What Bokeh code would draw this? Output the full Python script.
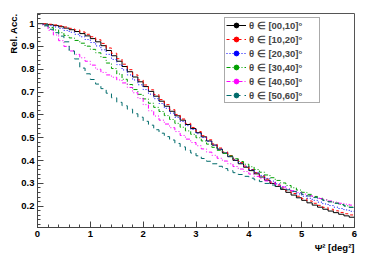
import numpy as np
from bokeh.plotting import figure
from bokeh.models import (Range1d, FixedTicker, CustomJSTickFormatter, Title,
                          Legend, LegendItem)
from bokeh.embed import file_html
from bokeh.resources import INLINE

# ---- data: relative acceptance per Psi^2 bin (60 bins of 0.1 deg^2 from 0 to 6) ----
bin_lo = 0.0
bin_hi = 6.0
n_bins = 60

theta_labels = ["θ ∈ [00,10]°", "θ ∈ [10,20]°", "θ ∈ [20,30]°",
                "θ ∈ [30,40]°", "θ ∈ [40,50]°", "θ ∈ [50,60]°"]

acc_00_10 = [1.000, 0.998, 0.995, 0.991, 0.986, 0.980, 0.973, 0.965, 0.956, 0.946,
             0.934, 0.920, 0.903, 0.882, 0.859, 0.835, 0.812, 0.789, 0.766, 0.745,
             0.724, 0.703, 0.682, 0.660, 0.638, 0.616, 0.596, 0.577, 0.558, 0.540,
             0.522, 0.504, 0.486, 0.468, 0.450, 0.433, 0.417, 0.401, 0.386, 0.371,
             0.356, 0.342, 0.328, 0.314, 0.300, 0.287, 0.274, 0.261, 0.249, 0.237,
             0.226, 0.215, 0.205, 0.196, 0.187, 0.179, 0.172, 0.165, 0.158, 0.152]

acc_10_20 = [1.000, 0.999, 0.997, 0.994, 0.990, 0.985, 0.979, 0.972, 0.963, 0.953,
             0.942, 0.929, 0.913, 0.893, 0.870, 0.846, 0.822, 0.798, 0.775, 0.753,
             0.731, 0.710, 0.689, 0.667, 0.645, 0.623, 0.602, 0.582, 0.563, 0.545,
             0.527, 0.509, 0.491, 0.473, 0.455, 0.438, 0.422, 0.406, 0.391, 0.376,
             0.361, 0.347, 0.333, 0.319, 0.306, 0.293, 0.280, 0.268, 0.256, 0.244,
             0.233, 0.223, 0.213, 0.204, 0.195, 0.187, 0.180, 0.173, 0.167, 0.162]

acc_20_30 = [1.000, 0.996, 0.991, 0.985, 0.978, 0.970, 0.962, 0.953, 0.942, 0.930,
             0.917, 0.902, 0.885, 0.865, 0.843, 0.820, 0.797, 0.775, 0.753, 0.732,
             0.711, 0.691, 0.671, 0.650, 0.629, 0.608, 0.589, 0.571, 0.553, 0.536,
             0.518, 0.501, 0.484, 0.467, 0.450, 0.434, 0.418, 0.403, 0.389, 0.375,
             0.361, 0.348, 0.335, 0.322, 0.310, 0.298, 0.286, 0.275, 0.264, 0.254,
             0.244, 0.235, 0.226, 0.218, 0.210, 0.203, 0.196, 0.190, 0.184, 0.178]

acc_30_40 = [1.000, 0.993, 0.983, 0.972, 0.960, 0.948, 0.937, 0.926, 0.914, 0.901,
             0.887, 0.872, 0.852, 0.827, 0.803, 0.779, 0.756, 0.733, 0.711, 0.690,
             0.670, 0.651, 0.633, 0.615, 0.597, 0.580, 0.563, 0.546, 0.530, 0.515,
             0.500, 0.486, 0.472, 0.458, 0.445, 0.432, 0.420, 0.408, 0.396, 0.384,
             0.373, 0.361, 0.349, 0.337, 0.325, 0.313, 0.302, 0.291, 0.281, 0.271,
             0.261, 0.252, 0.243, 0.235, 0.228, 0.221, 0.214, 0.208, 0.202, 0.196]

acc_40_50 = [1.000, 0.990, 0.970, 0.950, 0.925, 0.900, 0.880, 0.865, 0.850, 0.835,
             0.818, 0.800, 0.786, 0.775, 0.765, 0.753, 0.740, 0.720, 0.697, 0.672,
             0.645, 0.618, 0.595, 0.577, 0.560, 0.544, 0.527, 0.510, 0.494, 0.479,
             0.465, 0.451, 0.437, 0.423, 0.410, 0.398, 0.386, 0.374, 0.363, 0.352,
             0.341, 0.331, 0.321, 0.311, 0.302, 0.293, 0.284, 0.276, 0.268, 0.260,
             0.253, 0.246, 0.240, 0.234, 0.228, 0.223, 0.218, 0.213, 0.209, 0.205]

acc_50_60 = [1.000, 0.990, 0.975, 0.960, 0.945, 0.920, 0.880, 0.845, 0.805, 0.780,
             0.755, 0.735, 0.715, 0.695, 0.675, 0.655, 0.640, 0.625, 0.605, 0.590,
             0.572, 0.555, 0.535, 0.520, 0.505, 0.490, 0.475, 0.460, 0.445, 0.433,
             0.421, 0.409, 0.397, 0.386, 0.375, 0.365, 0.356, 0.347, 0.339, 0.331,
             0.323, 0.316, 0.308, 0.300, 0.293, 0.286, 0.279, 0.272, 0.265, 0.259,
             0.252, 0.245, 0.238, 0.231, 0.225, 0.219, 0.213, 0.207, 0.201, 0.195]

series = [acc_00_10, acc_10_20, acc_20_30, acc_30_40, acc_40_50, acc_50_60]
colors = ["#000000", "#ff0000", "#0000ff", "#00a000", "#ff00ff", "#006b6b"]
dashes = ["solid", "3 3", "1 2", "4 2 1 2", "4 2 1 2 1 2", "5 4"]

FONT = "Liberation Sans"

p = figure(width=374, height=259, output_backend="svg", toolbar_location=None,
           x_range=Range1d(0, 6), y_range=Range1d(0.107, 1.044),
           min_border_left=37, min_border_right=20, min_border_top=13,
           min_border_bottom=32)
p.grid.visible = False
p.background_fill_color = "white"
p.border_fill_color = "white"
p.outline_line_color = "#555555"
p.outline_line_width = 1

edges = np.linspace(bin_lo, bin_hi, n_bins + 1)
centers = 0.5 * (edges[:-1] + edges[1:])
items = []
for vals, col, dash, lab in zip(series, colors, dashes, theta_labels):
    yv = list(vals) + [vals[-1]]
    p.step(x=edges, y=yv, mode="after", line_color=col, line_width=1,
           line_dash=dash)
    lr = p.line(x=centers, y=vals, line_color=col, line_width=1,
                line_dash=dash, visible=False)
    sr = p.scatter(x=centers, y=vals, marker="circle", size=8, fill_color=col,
                   line_color=col, visible=False)
    items.append(LegendItem(label=lab, renderers=[lr, sr], index=0))

# axes
for ax in (p.xaxis[0], p.yaxis[0]):
    ax.axis_line_color = "#444444"
    ax.major_tick_line_color = "#444444"
    ax.minor_tick_line_color = "#444444"
    ax.major_tick_in = 6
    ax.major_tick_out = 0
    ax.minor_tick_in = 3
    ax.minor_tick_out = 0
    ax.major_label_text_font = FONT
    ax.major_label_text_font_style = "bold"
    ax.major_label_text_font_size = "9.5px"
    ax.major_label_text_color = "black"

p.xaxis.ticker = FixedTicker(ticks=list(range(0, 7)),
                             minor_ticks=list(np.round(np.arange(0, 6.01, 0.2), 2)))
p.yaxis.ticker = FixedTicker(ticks=list(np.round(np.arange(0.2, 1.01, 0.1), 2)),
                             minor_ticks=list(np.round(np.arange(0.12, 1.045, 0.02), 2)))
p.yaxis.formatter = CustomJSTickFormatter(code="return String(Math.round(tick*10)/10);")
p.xaxis.major_label_standoff = 3
p.yaxis.major_label_standoff = 3

# axis titles as side titles
p.add_layout(Title(text="Rel. Acc.", align="right", text_font=FONT,
                   text_font_style="bold", text_font_size="9.5px",
                   text_color="black", standoff=0, offset=0), "left")
p.add_layout(Title(text="Ψ² [deg²]", align="right", text_font=FONT,
                   text_font_style="bold", text_font_size="9.5px",
                   text_color="black", standoff=0, offset=0), "below")

legend = Legend(items=items, location=(187, 124))
legend.label_text_font = FONT
legend.label_text_font_style = "bold"
legend.label_text_font_size = "9.5px"
legend.glyph_width = 20
legend.glyph_height = 12
legend.label_height = 12
legend.label_width = 69
legend.label_standoff = 3
legend.spacing = 2
legend.padding = 1
legend.margin = 0
legend.border_line_color = "#555555"
legend.border_line_width = 1
legend.background_fill_color = "white"
legend.background_fill_alpha = 1.0
p.add_layout(legend, "center")

open("out.html", "w").write(file_html(p, INLINE))
